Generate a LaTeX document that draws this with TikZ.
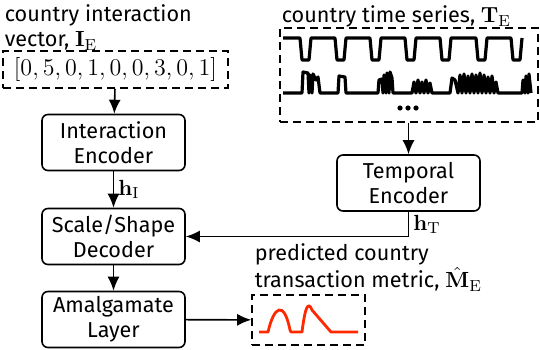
\documentclass[tikz,border=0pt]{standalone}
\usepackage{amsmath}
\usepackage[no-math]{fontspec}
\setmainfont{Fira Sans}
\usepackage{tikz}
\usetikzlibrary{positioning,arrows.meta}
\tikzset{
	defaultstyle/.style={
		>={Latex[length=7pt,width=6pt]},
		line width=0.8pt,
		x=0.5pt, y=-0.5pt,
		font=\fontsize{10.8}{12.5}\selectfont},
	blockbox/.style={draw, rounded corners=3pt, minimum width=71.5pt, minimum height=28pt, align=center, inner sep=1pt},
	dashbox/.style={draw, dashed, dash pattern=on 4pt off 2.5pt},
	titletext/.style={align=left, inner sep=0pt},
	series/.style={line width=1.6pt, line join=round},
	metric/.style={line width=1.4pt, color=predred, line join=round}}
\definecolor{predred}{RGB}{255,40,0}
\newcommand{\vecI}{\ensuremath{\mathbf{I}_\mathrm{E}}}
\newcommand{\vecT}{\ensuremath{\mathbf{T}_\mathrm{E}}}
\newcommand{\vecM}{\ensuremath{\hat{\mathbf{M}}_\mathrm{E}}}

\begin{document}
\begin{tikzpicture}[defaultstyle]
	\useasboundingbox (0,0) rectangle (540,349);

	% interaction side
	\node[titletext, anchor=north west] (ivtitle) at (4,4) {country interaction\\vector, \vecI};
	\node[dashbox, minimum width=112.5pt, minimum height=18.5pt, inner sep=0pt] (ivec) at (115.5,69.5) {\fontsize{12.8}{14}\selectfont$[0,5,0,1,0,0,3,0,1]$};

	\node[blockbox] (ienc) at (113.5,142.5) {Interaction\\Encoder};
	\node[blockbox] (dec) at (113.5,236.5) {Scale/Shape\\Decoder};
	\node[blockbox] (amal) at (113.5,319.5) {Amalgamate\\Layer};

	% temporal side
	\node[titletext, anchor=north west] (tstitle) at (281,5) {country time series, \vecT};
	\node[dashbox, minimum width=129pt, minimum height=47pt] (tseries) at (409,75) {};
	\draw[series] (283,38) \foreach \x in {300,335,370,405,440,476,511} { -- (\x,38) -- ++(2,22) -- ++(7,0) -- ++(2,-22) } -- (522,38);
	\draw[series] plot coordinates {(283,93) (302,93) (303,72) (308,73) (309,93) (310,75) (312,93) (313,74) (316,80) (318,77) (320,93)
		(338,93) (339,76) (345,77) (346,93)
		(378,93) (379,80) (382,79) (383,93) (384,75) (386,93) (387,73) (389,93) (390,72) (392,78) (393,93)
		(412,93) (414,82) (416,93) (418,80) (420,93) (422,82) (424,93) (426,80) (428,93) (430,83) (432,93)
		(450,93) (452,78) (455,80) (458,93) (460,75) (462,93) (464,74) (466,93) (468,76) (470,93) (472,74) (474,93)
		(476,75) (478,93) (480,73) (482,93) (484,75) (486,93) (488,77) (490,93) (492,76) (494,93) (496,82) (498,93)
		(522,93) (523,80) (525,93) (526,76) (528,93) (529,74) (531,93)};
	\foreach \x in {400,408,416} \fill (\x,108) circle (1.3pt);

	\node[blockbox] (tenc) at (408.5,183) {Temporal\\Encoder};

	% output
	\node[dashbox, minimum width=56.5pt, minimum height=25pt] (out) at (308.5,320) {};
	\node[titletext, anchor=south west] (outtitle) at (254,292) {predicted country\\transaction metric, \vecM};
	\draw[metric] (259,332) -- (268,332) .. controls (274,306) and (284,300) .. (290,330) -- (291,332) -- (302,332) .. controls (305,308) and (308,300) .. (312,310) -- (331,332) -- (358,332);

	\draw[->] (ivec) -- (ienc);
	\draw[->] (ienc) -- node[right, inner sep=2pt] {$\mathbf{h}_\mathrm{I}$} (dec);
	\draw[->] (dec) -- (amal);
	\draw[->] (tseries.south -| tenc) -- (tenc);
	\draw[->] (tenc.south) -- node[right, inner sep=2pt] {$\mathbf{h}_\mathrm{T}$} (tenc.south |- dec.east) -- (dec.east);
	\draw[->] (amal) -- (out);

\end{tikzpicture}
\end{document}
